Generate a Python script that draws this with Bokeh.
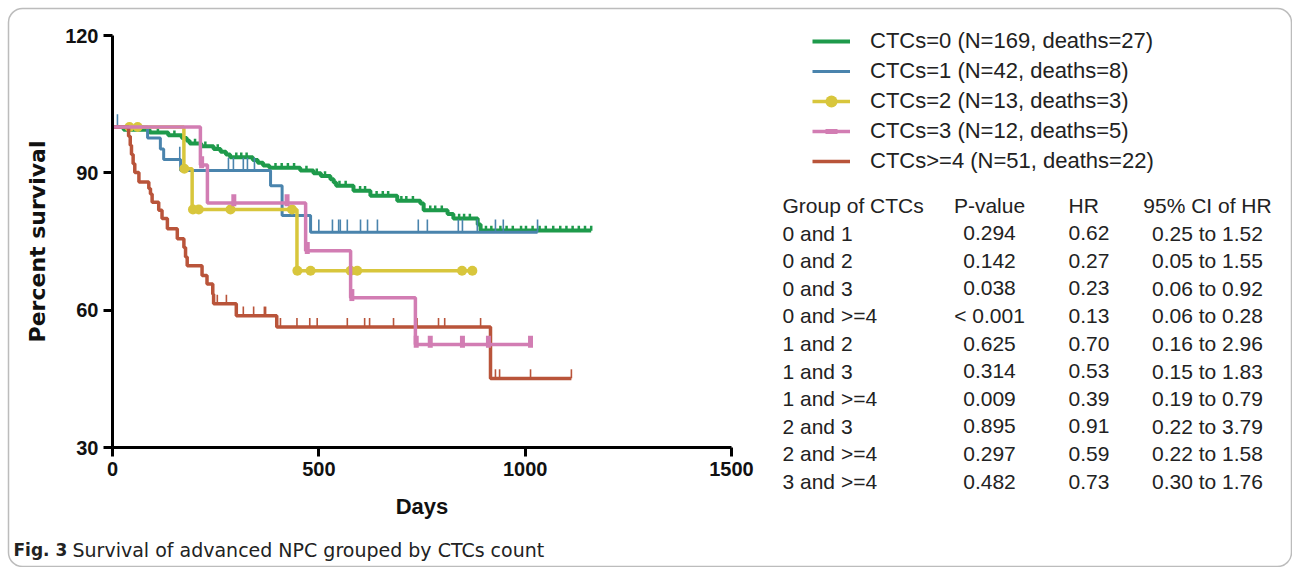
import numpy as np
from bokeh.plotting import figure
from bokeh.models import (Range1d, Label, Legend, LegendItem, BoxAnnotation,
                          ColumnDataSource, FixedTicker)
from bokeh.transform import dodge
from bokeh.embed import file_html
from bokeh.resources import INLINE

# ---------------- data ----------------
green_death_days = [27, 90, 135, 168, 180, 187, 215, 245, 262, 275, 285, 340, 352, 365, 380,
                    455, 487, 505, 528, 536, 542, 584, 625, 690, 746, 754, 812, 826, 885, 892]
green_surv = [99.4, 98.8, 98.2, 97.6, 97.0, 96.4, 95.8, 95.2, 94.6, 94.0, 93.4, 92.8, 92.2, 91.6, 91.1,
              90.5, 89.9, 89.3, 88.6, 87.9, 87.2, 86.1, 85.0, 83.9, 83.3, 81.8, 81.0, 80.0, 78.7, 77.4]
green_censor_days = [30, 55, 72, 110, 150, 200, 225, 255, 300, 312, 325, 395, 410, 425, 440, 470,
                     495, 515, 550, 565, 600, 612, 640, 655, 668, 700, 712, 728, 770, 782, 798,
                     840, 852, 866, 905, 918, 940, 955, 970, 990, 1002, 1018, 1035, 1050, 1068,
                     1085, 1100, 1115, 1130, 1145, 1160]

blue_death_days = [85, 116, 124, 165, 383, 411, 480]
blue_surv = [97.6, 95.2, 92.9, 90.5, 87.2, 80.7, 77.0]
blue_censor_days = [12, 163, 281, 293, 317, 327, 344, 500, 533, 548, 552, 569, 601, 618, 642,
                    741, 763, 838, 848, 884, 928, 947, 1030]

yellow_death_days = [173, 193, 447]
yellow_surv = [90.9, 82.0, 68.6]
yellow_censor_days = [41, 61, 174, 195, 209, 286, 435, 448, 480, 577, 593, 847, 872]

pink_death_days = [213, 230, 468, 577, 734]
pink_surv = [91.7, 83.4, 73.0, 62.7, 52.5]
pink_censor_days = [216, 294, 423, 472, 580, 736, 770, 848, 911, 1013]

red_death_days = [39, 43, 46, 50, 54, 64, 88, 92, 96, 112, 120, 133, 157, 173, 177, 181,
                  217, 229, 243, 245, 300, 398, 916]
red_surv = [98.0, 96.0, 94.0, 92.0, 90.1, 88.0, 86.6, 85.4, 83.6, 81.8, 80.0, 77.8, 75.6, 73.7,
            71.6, 69.7, 67.6, 65.7, 63.5, 61.4, 58.8, 56.3, 45.1]
red_censor_days = [254, 276, 317, 342, 368, 371, 407, 447, 478, 496, 569, 611, 623, 681, 738,
                   790, 805, 892, 928, 938, 1013, 1112]

legend_labels = ["CTCs=0 (N=169, deaths=27)", "CTCs=1 (N=42, deaths=8)",
                 "CTCs=2 (N=13, deaths=3)", "CTCs=3 (N=12, deaths=5)",
                 "CTCs>=4 (N=51, deaths=22)"]

table_header = ["Group of CTCs", "P-value", "HR", "95% CI of HR"]
groups = ["0 and 1", "0 and 2", "0 and 3", "0 and >=4", "1 and 2", "1 and 3", "1 and >=4",
          "2 and 3", "2 and >=4", "3 and >=4"]
p_values = ["0.294", "0.142", "0.038", "< 0.001", "0.625", "0.314", "0.009", "0.895", "0.297", "0.482"]
hr_values = ["0.62", "0.27", "0.23", "0.13", "0.70", "0.53", "0.39", "0.91", "0.59", "0.73"]
ci_values = ["0.25 to 1.52", "0.05 to 1.55", "0.06 to 0.92", "0.06 to 0.28", "0.16 to 2.96",
             "0.15 to 1.83", "0.19 to 0.79", "0.22 to 3.79", "0.22 to 1.58", "0.30 to 1.76"]

x_ticks = [0, 500, 1000, 1500]
y_ticks = [30, 60, 90, 120]
x_min, x_max = 0, 1500
y_min, y_max = 30, 120
caption_bold = "Fig. 3"
caption_text = "Survival of advanced NPC grouped by CTCs count"

# ---------------- layout (pixels of the page) ----------------
W, H = 1292, 567
PL, PR, PT, PB = 112, 731, 35, 447          # where the plotting region sits on the page
xs_per_px = (x_max - x_min) / (PR - PL)
ys_per_px = (y_max - y_min) / (PB - PT)
x_range = Range1d(x_min - PL * xs_per_px, x_max + (W - PR) * xs_per_px)
y_range = Range1d(y_min - (H - PB) * ys_per_px, y_max + PT * ys_per_px)

p = figure(width=W, height=H, x_range=x_range, y_range=y_range,
           output_backend="svg", toolbar_location=None,
           min_border=0, min_border_left=0, min_border_right=0,
           min_border_top=0, min_border_bottom=0)
p.outline_line_color = None
p.xgrid.visible = False
p.ygrid.visible = False
p.background_fill_color = "white"
p.border_fill_color = "white"

p.xaxis.fixed_location = y_min
p.yaxis.fixed_location = x_min
p.xaxis.bounds = (x_min, x_max)
p.yaxis.bounds = (y_min, y_max)

for ax in (p.xaxis[0], p.yaxis[0]):
    ax.axis_line_width = 3
    ax.axis_line_color = "black"
    ax.major_tick_line_width = 3
    ax.major_tick_line_color = "black"
    ax.major_tick_in = 0
    ax.major_tick_out = 9
    ax.minor_tick_line_color = None
    ax.major_label_text_font = "Liberation Sans"
    ax.major_label_text_font_style = "bold"
    ax.major_label_text_font_size = "20px"
    ax.major_label_text_color = "#111111"
    ax.major_label_standoff = 5
    ax.axis_label_text_font_style = "bold"
    ax.axis_label_text_color = "#111111"

p.xaxis.ticker = FixedTicker(ticks=x_ticks)
p.yaxis.ticker = FixedTicker(ticks=y_ticks)
p.xaxis.axis_label = "Days"
p.xaxis.axis_label_text_font = "Liberation Sans"
p.xaxis.axis_label_text_font_size = "22px"
p.xaxis.axis_label_standoff = 15
p.yaxis.axis_label = "Percent survival"
p.yaxis.axis_label_text_font = "DejaVu Sans"
p.yaxis.axis_label_text_font_size = "22px"
p.yaxis.axis_label_standoff = 12


def level_at(t, days, surv):
    lvl = 100.0
    for d, s in zip(days, surv):
        if d <= t:
            lvl = s
    return lvl


series = [
    ("#1e9a4b", green_death_days, green_surv, green_censor_days, 4.0,
     dict(marker="dash", angle=np.pi / 2, size=5, line_width=2.5), 0.5),
    ("#4a84ad", blue_death_days, blue_surv, blue_censor_days, 3.0,
     dict(marker="dash", angle=np.pi / 2, size=13, line_width=1.6), 1.4),
    ("#d8c63c", yellow_death_days, yellow_surv, yellow_censor_days, 3.5,
     dict(marker="circle", size=10, line_width=0), 0.0),
    ("#d27db3", pink_death_days, pink_surv, pink_censor_days, 3.5,
     dict(marker="dash", angle=np.pi / 2, size=12, line_width=5), 0.6),
    ("#b9543a", red_death_days, red_surv, red_censor_days, 3.5,
     dict(marker="dash", angle=np.pi / 2, size=9, line_width=1.6), 1.0),
]

order = [0, 1, 2, 4, 3]
items = [None] * 5
for i in order:
    color, dd, ss, cc, lw, mk, off = series[i]
    end = max(max(dd), max(cc))
    xs = [0] + list(dd) + [end]
    ys = [100.0] + list(ss) + [ss[-1]]
    line = p.step(x=xs, y=ys, mode="after", line_color=color, line_width=lw)
    src = ColumnDataSource(dict(x=cc, y=[level_at(t, dd, ss) for t in cc]))
    kw = dict(mk)
    marker = kw.pop("marker")
    sc = p.scatter(x="x", y=dodge("y", off), source=src, marker=marker,
                   line_color=color, fill_color=color, **kw)
    items[i] = LegendItem(label=legend_labels[i], renderers=[line, sc])

# legend: first row centred at page y=41, rows 30 px apart, glyph from x=812
legend = Legend(items=items, location=(812, H - 176), orientation="vertical",
                glyph_width=38, glyph_height=30, label_height=30, spacing=0,
                label_standoff=20, padding=0, margin=0,
                border_line_alpha=0, background_fill_alpha=0,
                label_text_font="Liberation Sans", label_text_font_size="22px",
                label_text_color="#222222")
p.add_layout(legend)

# ---------------- table ----------------
col_x = [782, 989, 1068, 1207]
col_align = ["left", "center", "left", "center"]
row0, row_step = 205, 27.6
rows = [table_header] + [list(r) for r in zip(groups, p_values, hr_values, ci_values)]
for r, row in enumerate(rows):
    ypix = row0 + r * row_step
    for c, txt in enumerate(row):
        p.add_layout(Label(x=col_x[c], y=H - ypix, x_units="screen", y_units="screen",
                           text=txt, text_align=col_align[c], text_baseline="middle",
                           text_font="Liberation Sans", text_font_size="21px",
                           text_color="#222222"))

# ---------------- caption & frame ----------------
p.add_layout(Label(x=13, y=H - 549, x_units="screen", y_units="screen",
                   text=caption_bold, text_baseline="middle", text_font="DejaVu Sans",
                   text_font_style="bold", text_font_size="17px", text_color="#222222"))
p.add_layout(Label(x=72, y=H - 549, x_units="screen", y_units="screen",
                   text=caption_text, text_baseline="middle", text_font="DejaVu Sans",
                   text_font_size="19px", text_color="#222222"))

p.add_layout(BoxAnnotation(left=8, right=1291, top=H - 8, bottom=H - 566,
                           left_units="screen", right_units="screen",
                           top_units="screen", bottom_units="screen",
                           fill_alpha=0, line_color="#222222", line_width=1.5,
                           border_radius=14, level="overlay"))

open("out.html", "w").write(file_html(p, INLINE))
